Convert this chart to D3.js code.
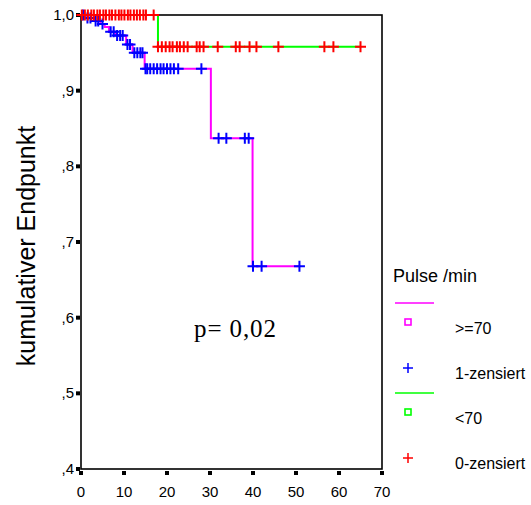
<!DOCTYPE html>
<html>
<head>
<meta charset="utf-8">
<script src="https://cdn.jsdelivr.net/npm/d3@7"></script>
<style>
  body { margin: 0; background: #fff; }
  svg { display: block; }
  text { font-family: Arial, "Liberation Sans", sans-serif; fill: #000; }
</style>
</head>
<body>
<div id="viz"></div>
<script>
// chart values
// Pulse >=70: step times and survival after each step
const highTimes = [0, 1.0, 3.0, 4.5, 5.5, 6.5, 8.0, 10.5, 12.0, 14.8, 30.2, 39.9, 51.0];
const highSurv  = [1.0, 0.996, 0.992, 0.988, 0.984, 0.978, 0.973, 0.961, 0.950, 0.929, 0.837, 0.668, 0.668];
// censored cases in the >=70 group (blue +)
const highCensor = [0.5, 1.5, 2.2, 3.4, 4.0, 5.0, 6.9, 7.6, 8.4, 9.1, 9.7, 10.8, 11.4,
    12.4, 13.1, 13.8, 14.3, 15.0, 15.4, 16.1, 16.9, 17.7, 18.5, 19.2, 20.0, 20.8, 21.6,
    22.6, 28.0, 32.0, 33.8, 38.1, 39.0, 40.0, 42.0, 50.8];

// Pulse <70
const lowTimes = [0, 17.9, 65.0];
const lowSurv  = [1.0, 0.958, 0.958];
// censored cases in the <70 group (red +)
const lowCensor = [0.2, 0.9, 1.6, 2.4, 3.0, 3.8, 4.4, 5.2, 5.8, 6.6, 7.2, 8.0, 8.8, 9.4,
    10.1, 10.9, 11.5, 12.3, 13.0, 13.7, 14.5, 15.1, 16.9,
    17.9, 18.8, 19.7, 20.6, 21.3, 22.3, 23.0, 23.9, 24.8, 26.9, 27.6, 28.5, 31.8,
    36.0, 36.9, 39.2, 40.8, 45.9, 56.6, 58.7, 65.0];

const xTicks = [0, 10, 20, 30, 40, 50, 60, 70];
const yTicks = [0.4, 0.5, 0.6, 0.7, 0.8, 0.9, 1.0];
const yTickLabels = [",4", ",5", ",6", ",7", ",8", ",9", "1,0"];

const legendTitle = "Pulse /min";
const legendItems = [
    {label: ">=70", color: "#ff00ff", censorColor: "#0000ff", censorLabel: "1-zensiert"},
    {label: "<70", color: "#00ff00", censorColor: "#ff0000", censorLabel: "0-zensiert"}
];
const pText = "p= 0,02";
const yTitle = "kumulativer Endpunkt";

const outerWidth = 531, outerHeight = 505;

window.onload = function main () {

const svg = d3.select("#viz").append("svg")
    .attr("width", outerWidth)
    .attr("height", outerHeight);

// scales
const x = d3.scaleLinear().domain([0, 70]).range([81, 382]),
    y = d3.scaleLinear().domain([0.4, 1.0]).range([469, 15]);

// survival value at time t (step function)
function survAt(times, surv, t) {
    let s = surv[0];
    for (let i = 0; i < times.length; i++) if (times[i] <= t) s = surv[i];
    return s;
}

const stepLine = d3.line()
    .x(d => x(d[0]))
    .y(d => y(d[1]))
    .curve(d3.curveStepAfter);

// frame
svg.append("rect")
    .attr("x", x(0)).attr("y", y(1.0))
    .attr("width", x(70) - x(0)).attr("height", y(0.4) - y(1.0))
    .attr("fill", "none").attr("stroke", "#000").attr("stroke-width", 1.6);

// tick squares
svg.selectAll(".xtick").data(xTicks).enter().append("rect")
    .attr("x", d => x(d) - 2).attr("y", y(0.4) + 2)
    .attr("width", 4).attr("height", 4).attr("fill", "#000");
svg.selectAll(".ytick").data(yTicks).enter().append("rect")
    .attr("x", x(0) - 5).attr("y", d => y(d) - 2)
    .attr("width", 4).attr("height", 4).attr("fill", "#000");

// tick labels
svg.selectAll(".xlab").data(xTicks).enter().append("text")
    .attr("x", d => x(d)).attr("y", 497)
    .attr("text-anchor", "middle").style("font-size", "15px")
    .text(d => d);
svg.selectAll(".ylab").data(yTicks).enter().append("text")
    .attr("x", 74).attr("y", d => y(d) + 5)
    .attr("text-anchor", "end").style("font-size", "15px")
    .text((d, i) => yTickLabels[i]);

// axis title
svg.append("text")
    .attr("transform", "translate(35,246) rotate(-90)")
    .attr("text-anchor", "middle").style("font-size", "25px")
    .text(yTitle);

// curves
const groups = [
    {times: highTimes, surv: highSurv, censor: highCensor, color: legendItems[0].color, cColor: legendItems[0].censorColor},
    {times: lowTimes, surv: lowSurv, censor: lowCensor, color: legendItems[1].color, cColor: legendItems[1].censorColor}
];

groups.forEach(g => {
    svg.append("path")
        .datum(g.times.map((t, i) => [t, g.surv[i]]))
        .attr("d", stepLine)
        .attr("fill", "none").attr("stroke", g.color).attr("stroke-width", 2);
});

function plus(sel, color, r, w) {
    sel.append("path")
        .attr("d", `M${-r},0H${r}M0,${-r}V${r}`)
        .attr("stroke", color).attr("stroke-width", w).attr("fill", "none");
}

groups.forEach(g => {
    g.censor.forEach(t => {
        const m = svg.append("g")
            .attr("transform", `translate(${x(t)},${y(survAt(g.times, g.surv, t))})`);
        plus(m, g.cColor, 5.5, 2);
    });
});

// p value
svg.append("text")
    .attr("x", 194).attr("y", 337)
    .attr("textLength", 82).attr("lengthAdjust", "spacing")
    .style("font-family", "'Liberation Serif', 'Times New Roman', serif")
    .style("font-size", "25px")
    .text(pText);

// legend
svg.append("text")
    .attr("x", 393).attr("y", 282)
    .style("font-size", "18px")
    .text(legendTitle);

legendItems.forEach((d, i) => {
    const top = 303 + i * 90;
    svg.append("line")
        .attr("x1", 395).attr("x2", 434).attr("y1", top).attr("y2", top)
        .attr("stroke", d.color).attr("stroke-width", 1.6);
    svg.append("rect")
        .attr("x", 405).attr("y", top + 16).attr("width", 6).attr("height", 6)
        .attr("fill", "none").attr("stroke", d.color).attr("stroke-width", 1.6);
    svg.append("text")
        .attr("x", 455).attr("y", top + 31)
        .style("font-size", "16px").text(d.label);
    const m = svg.append("g").attr("transform", `translate(408,${top + 65})`);
    plus(m, d.censorColor, 5, 1.5);
    svg.append("text")
        .attr("x", 455).attr("y", top + 76)
        .style("font-size", "16px").text(d.censorLabel);
});

};
</script>
</body>
</html>
